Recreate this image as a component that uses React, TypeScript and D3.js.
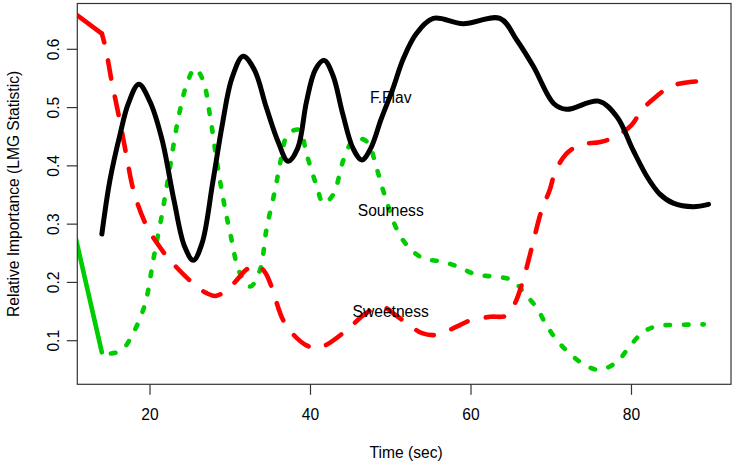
import React from "react";
import * as d3 from "d3";

// ---- data ----
const xTicks = [20, 40, 60, 80];
const yTicks = [0.1, 0.2, 0.3, 0.4, 0.5, 0.6];

const flavT = [14, 15, 16.3, 17.3, 18.6, 20.0, 21.5, 23.0, 24.3, 25.4, 26.5, 27.8, 29.0, 30.2, 31.6, 33.0, 34.5, 36.0, 37.2, 38.4, 39.5, 40.6, 41.7, 42.8, 44.0, 45.3, 46.4, 47.5, 48.8, 50.2, 51.6, 53.2, 55.3, 59.0, 63.6, 65.7, 67.8, 70.3, 71.9, 75.9, 78.2, 80.2, 82.0, 83.5, 85.2, 87.7, 89.6];
const flavV = [0.283, 0.375, 0.456, 0.507, 0.540, 0.510, 0.445, 0.340, 0.262, 0.238, 0.268, 0.370, 0.470, 0.550, 0.588, 0.565, 0.500, 0.440, 0.408, 0.430, 0.510, 0.565, 0.581, 0.555, 0.490, 0.430, 0.410, 0.430, 0.480, 0.530, 0.585, 0.627, 0.653, 0.644, 0.653, 0.616, 0.570, 0.507, 0.497, 0.511, 0.484, 0.427, 0.38, 0.352, 0.336, 0.330, 0.334];

const sweetLeadT = [10, 14];
const sweetLeadV = [0.668, 0.627];
const sweetT = [14.0, 14.5, 15.2, 16.3, 17.1, 18.0, 19.6, 21.0, 22.5, 25.4, 27.0, 28.3, 30.4, 32.0, 33.3, 34.3, 35.0, 36.6, 37.9, 39.5, 40.8, 42.0, 44.5, 47.0, 49.0, 50.5, 52.0, 53.9, 55.7, 58.2, 59.9, 62.4, 64.4, 65.5, 66.5, 67.6, 68.8, 69.8, 70.5, 71.9, 73.6, 76.1, 78.0, 80.0, 81.3, 83.1, 84.8, 87.3, 89.0];
const sweetV = [0.627, 0.600, 0.547, 0.473, 0.415, 0.355, 0.296, 0.265, 0.238, 0.198, 0.182, 0.177, 0.198, 0.222, 0.230, 0.218, 0.198, 0.135, 0.110, 0.092, 0.087, 0.093, 0.118, 0.148, 0.158, 0.145, 0.130, 0.113, 0.110, 0.124, 0.135, 0.141, 0.143, 0.165, 0.204, 0.261, 0.324, 0.358, 0.390, 0.421, 0.436, 0.441, 0.450, 0.470, 0.496, 0.519, 0.536, 0.544, 0.545];

const sourLeadT = [10, 14];
const sourLeadV = [0.321, 0.08];
const sourT = [14.0, 15.0, 16.5, 17.9, 19.0, 19.6, 20.4, 21.4, 22.4, 23.5, 24.6, 25.6, 26.6, 27.5, 28.3, 29.1, 30.0, 31.2, 32.5, 33.7, 34.5, 35.6, 36.3, 37.0, 37.9, 38.7, 39.5, 40.8, 41.6, 42.8, 44.1, 45.3, 46.2, 47.2, 48.2, 49.3, 50.9, 52.4, 54.1, 56.3, 58.4, 60.5, 62.8, 65.1, 66.7, 68.2, 69.4, 70.7, 72.3, 74.2, 76.1, 78.2, 79.6, 81.3, 83.1, 85.4, 89.0];
const sourV = [0.080, 0.078, 0.084, 0.113, 0.147, 0.175, 0.238, 0.31, 0.39, 0.48, 0.541, 0.567, 0.547, 0.484, 0.410, 0.345, 0.284, 0.216, 0.193, 0.221, 0.290, 0.36, 0.41, 0.45, 0.461, 0.461, 0.421, 0.364, 0.336, 0.350, 0.410, 0.444, 0.447, 0.439, 0.398, 0.347, 0.287, 0.258, 0.241, 0.236, 0.227, 0.214, 0.210, 0.204, 0.181, 0.156, 0.127, 0.101, 0.078, 0.058, 0.050, 0.064, 0.087, 0.113, 0.125, 0.127, 0.128];

const labelNames = ["F.Flav", "Sourness", "Sweetness"];
const labelT = [50, 50, 50];
const labelV = [0.517, 0.324, 0.150];

const xTitle = "Time (sec)";
const yTitle = "Relative Importance (LMG Statistic)";

// ---- layout ----
const W = 736, H = 464;
const L = 77.3, R = 731, T = 3.5, B = 384.3;
const FONT = "'Liberation Sans', Arial, Helvetica, sans-serif";
const FS = 15.6;

export default function App() {
  const x = d3.scaleLinear().domain([10.94, 92.4]).range([L, R]);
  const y = d3.scaleLinear().domain([0.0252, 0.6786]).range([B, T]);

  const smooth = (ts: number[], vs: number[]) =>
    d3.line<number>().x((_, i) => x(ts[i])).y((d) => y(d)).curve(d3.curveCatmullRom.alpha(0.5))(vs) || "";
  const straight = (ts: number[], vs: number[]) =>
    d3.line<number>().x((_, i) => x(ts[i])).y((d) => y(d))(vs) || "";

  const lw = 4.6;
  return (
    <svg width={W} height={H} style={{ position: "absolute", left: 0, top: 0, background: "#fff" }}>
      <defs>
        <clipPath id="plotclip">
          <rect x={L} y={T} width={R - L} height={B - T} />
        </clipPath>
      </defs>
      <rect x={0} y={0} width={W} height={H} fill="#fff" />
      <g clipPath="url(#plotclip)" fill="none" strokeLinecap="round" strokeLinejoin="round">
        <path d={straight(sourLeadT, sourLeadV)} stroke="#00CD00" strokeWidth={lw} />
        <path d={smooth(sourT, sourV)} stroke="#00CD00" strokeWidth={lw} strokeDasharray={`${lw} ${lw * 3}`} strokeDashoffset={-lw * 2} />
        <path d={straight(sweetLeadT, sweetLeadV)} stroke="#FF0000" strokeWidth={lw} />
        <path d={smooth(sweetT, sweetV)} stroke="#FF0000" strokeWidth={lw} strokeDasharray={`${lw * 4} ${lw * 4}`} strokeDashoffset={lw * 2} />
        <path d={smooth(flavT, flavV)} stroke="#000" strokeWidth={lw + 0.4} />
      </g>
      {labelNames.map((n, i) => (
        <text key={n} x={x(labelT[i])} y={y(labelV[i]) + 5.6} textAnchor="middle" fontFamily={FONT} fontSize={FS} fill="#000">
          {n}
        </text>
      ))}
      <rect x={L} y={T} width={R - L} height={B - T} fill="none" stroke="#333" strokeWidth={1.2} />
      {xTicks.map((t) => (
        <g key={"x" + t}>
          <line x1={x(t)} x2={x(t)} y1={B} y2={B + 10.5} stroke="#333" strokeWidth={1.2} />
          <text x={x(t)} y={419.5} textAnchor="middle" fontFamily={FONT} fontSize={FS} fill="#000">
            {t}
          </text>
        </g>
      ))}
      {yTicks.map((t) => (
        <g key={"y" + t}>
          <line x1={L} x2={L - 10.5} y1={y(t)} y2={y(t)} stroke="#333" strokeWidth={1.2} />
          <text transform={`translate(58.5,${y(t)}) rotate(-90)`} textAnchor="middle" fontFamily={FONT} fontSize={FS} fill="#000">
            {t.toFixed(1)}
          </text>
        </g>
      ))}
      <text x={(L + R) / 2 + 2} y={457.5} textAnchor="middle" fontFamily={FONT} fontSize={FS} fill="#000">
        {xTitle}
      </text>
      <text transform={`translate(18.5,${(T + B) / 2}) rotate(-90)`} textAnchor="middle" fontFamily={FONT} fontSize={FS} fill="#000">
        {yTitle}
      </text>
    </svg>
  );
}
